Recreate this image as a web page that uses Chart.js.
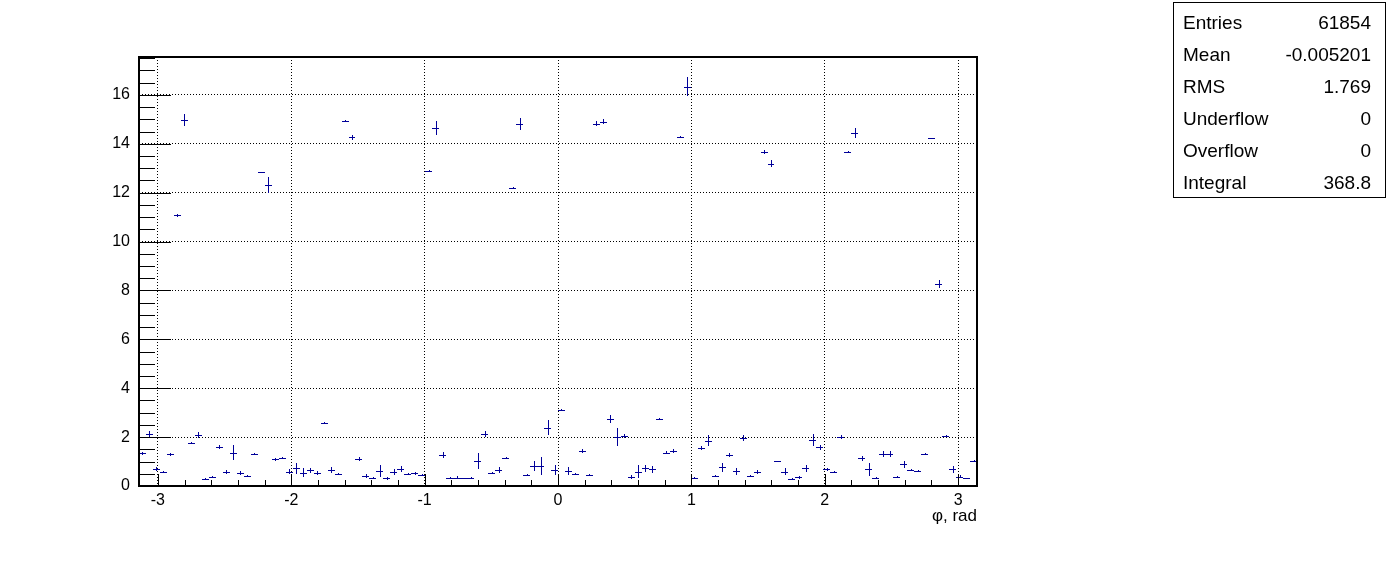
<!DOCTYPE html>
<html>
<head>
<meta charset="utf-8">
<title>phi histogram</title>
<script src="https://cdn.jsdelivr.net/npm/chart.js@4.4.1/dist/chart.umd.min.js"></script>
<style>
  html, body { margin: 0; padding: 0; background: #fff; }
  #wrap { position: relative; width: 1396px; height: 572px; }
  #stats {
    position: absolute; left: 1173px; top: 2px; width: 213px; height: 196px;
    box-sizing: border-box; border: 1px solid #000; background: #fff;
    font-family: "Liberation Sans", Arial, sans-serif; font-size: 19px; color: #000;
  }
  #stats .row {
    position: absolute; left: 9px; right: 14px; height: 32px; line-height: 32px;
    display: flex; justify-content: space-between; white-space: nowrap;
  }
</style>
</head>
<body>
<div id="wrap">
  <canvas id="histo" width="1396" height="572"></canvas>
  <div id="stats"></div>
</div>
<script>
// histogram binning: 120 bins over [-pi, pi]
const nBins = 120;
const xMin = -Math.PI;
const xMax = Math.PI;
const binCenters = Array.from({ length: nBins }, (_, i) => xMin + (i + 0.5) * (xMax - xMin) / nBins);

// bin contents
const counts = [
  1.33, 2.12, 0.69, 0.57, 1.29, 11.07, 14.98, 1.74, 2.10, 0.27,
  0.35, 1.58, 0.57, 1.37, 0.52, 0.42, 1.31, 12.83, 12.33, 1.09,
  1.13, 0.59, 0.72, 0.54, 0.64, 0.53, 2.57, 0.65, 0.48, 14.94,
  14.26, 1.09, 0.41, 0.31, 0.61, 0.31, 0.57, 0.69, 0.48, 0.52,
  0.45, 12.88, 14.65, 1.27, 0.31, 0.34, 0.31, 0.31, 1.02, 2.12,
  0.52, 0.65, 1.13, 12.20, 14.80, 0.45, 0.82, 0.82, 2.39, 0.65,
  3.10, 0.61, 0.48, 1.43, 0.45, 14.82, 14.91, 2.73, 2.01, 2.04,
  0.37, 0.59, 0.72, 0.68, 2.73, 1.37, 1.43, 14.29, 16.34, 0.31,
  1.56, 1.85, 0.39, 0.76, 1.27, 0.60, 1.97, 0.41, 0.57, 13.66,
  13.18, 1.02, 0.59, 0.29, 0.35, 0.72, 1.88, 1.58, 0.68, 0.59,
  1.99, 13.66, 14.44, 1.13, 0.69, 0.31, 1.31, 1.31, 0.35, 0.88,
  0.65, 0.61, 1.31, 14.22, 8.26, 2.05, 0.69, 0.38, 0.31, 1.02
];

// bin errors (half length of the vertical bar)
const errors = [
  0.08, 0.11, 0.07, 0.05, 0.05, 0.07, 0.24, 0.04, 0.12, 0.04,
  0.04, 0.08, 0.07, 0.30, 0.09, 0.04, 0.04, 0.03, 0.33, 0.05,
  0.04, 0.11, 0.22, 0.19, 0.11, 0.08, 0.04, 0.11, 0.04, 0.02,
  0.10, 0.08, 0.08, 0.04, 0.25, 0.05, 0.14, 0.12, 0.05, 0.05,
  0.04, 0.05, 0.28, 0.14, 0.04, 0.05, 0.03, 0.04, 0.33, 0.11,
  0.04, 0.11, 0.04, 0.02, 0.25, 0.05, 0.19, 0.38, 0.30, 0.19,
  0.04, 0.16, 0.04, 0.08, 0.05, 0.10, 0.12, 0.16, 0.37, 0.08,
  0.07, 0.25, 0.14, 0.14, 0.04, 0.08, 0.08, 0.02, 0.40, 0.04,
  0.07, 0.22, 0.04, 0.20, 0.07, 0.14, 0.11, 0.03, 0.08, 0.07,
  0.15, 0.01, 0.14, 0.03, 0.05, 0.14, 0.25, 0.11, 0.07, 0.04,
  0.08, 0.05, 0.20, 0.11, 0.27, 0.04, 0.11, 0.11, 0.04, 0.16,
  0.04, 0.04, 0.04, 0.02, 0.15, 0.03, 0.14, 0.05, 0.03, 0.03
];

const xTicks = [-3, -2, -1, 0, 1, 2, 3];
const yTicks = [0, 2, 4, 6, 8, 10, 12, 14, 16];
const yMax = 17.55;

const statsRows = [
  ['Entries', '61854'],
  ['Mean', '-0.005201'],
  ['RMS', '1.769'],
  ['Underflow', '0'],
  ['Overflow', '0'],
  ['Integral', '368.8']
];

const FONT = '"Liberation Sans", Arial, Helvetica, sans-serif';
const HIST_COLOR = '#000099';

// stats box
const statsBox = document.getElementById('stats');
statsRows.forEach((r, i) => {
  const row = document.createElement('div');
  row.className = 'row';
  row.style.top = (3.5 + 32 * i) + 'px';
  row.innerHTML = '<span>' + r[0] + '</span><span>' + r[1] + '</span>';
  statsBox.appendChild(row);
});

// error bars, frame and ROOT-like tick marks
const rootPlugin = {
  id: 'rootPlugin',
  afterDatasetsDraw(chart) {
    const { ctx, scales: { x, y } } = chart;
    const half = (xMax - xMin) / nBins / 2;
    ctx.save();
    ctx.strokeStyle = HIST_COLOR;
    ctx.lineWidth = 1;
    ctx.beginPath();
    binCenters.forEach((c, i) => {
      const x0 = Math.round(x.getPixelForValue(c - half));
      const x1 = Math.round(x.getPixelForValue(c + half));
      const xc = Math.round(x.getPixelForValue(c)) + 0.5;
      const yc = Math.round(y.getPixelForValue(counts[i])) + 0.5;
      const yLo = y.getPixelForValue(counts[i] - errors[i]);
      const yHi = y.getPixelForValue(counts[i] + errors[i]);
      ctx.moveTo(x0, yc);
      ctx.lineTo(x1, yc);
      ctx.moveTo(xc, Math.round(yHi));
      ctx.lineTo(xc, Math.round(yLo));
    });
    ctx.stroke();
    ctx.restore();
  },
  afterDraw(chart) {
    const { ctx, chartArea: a, scales: { x, y } } = chart;
    ctx.save();
    ctx.strokeStyle = '#000';
    ctx.lineWidth = 1;
    ctx.beginPath();
    // x ticks: major 12px, minor every 0.2
    for (let i = 0; i < xTicks.length; i++) {
      const px = Math.round(x.getPixelForValue(xTicks[i])) + 0.5;
      ctx.moveTo(px, a.bottom);
      ctx.lineTo(px, a.bottom - 12);
      if (i < xTicks.length - 1) {
        for (let k = 1; k < 5; k++) {
          const v = xTicks[i] + k * (xTicks[i + 1] - xTicks[i]) / 5;
          const pm = Math.round(x.getPixelForValue(v)) + 0.5;
          ctx.moveTo(pm, a.bottom);
          ctx.lineTo(pm, a.bottom - 6);
        }
      }
    }
    // y ticks: major 32px, minor every 0.5
    for (let v = 0; v <= yMax; v += 0.5) {
      const py = Math.round(y.getPixelForValue(v)) + 0.5;
      const major = yTicks.includes(v);
      ctx.moveTo(a.left, py);
      ctx.lineTo(a.left + (major ? 32 : 16), py);
    }
    ctx.stroke();
    // frame
    ctx.lineWidth = 2;
    ctx.strokeRect(a.left, a.top, a.right - a.left, a.bottom - a.top);
    ctx.restore();
  }
};

new Chart(document.getElementById('histo'), {
  type: 'scatter',
  data: {
    datasets: [{
      label: 'phi',
      data: binCenters.map((c, i) => ({ x: c, y: counts[i] })),
      pointRadius: 0,
      pointHoverRadius: 0,
      showLine: false,
      borderColor: HIST_COLOR
    }]
  },
  options: {
    responsive: false,
    animation: false,
    devicePixelRatio: 1,
    layout: { padding: { left: 0, top: 57, right: 419, bottom: 0 } },
    plugins: {
      legend: { display: false },
      tooltip: { enabled: false }
    },
    scales: {
      x: {
        type: 'linear',
        min: xMin,
        max: xMax,
        afterBuildTicks: s => { s.ticks = xTicks.map(v => ({ value: v })); },
        afterFit: s => { s.height = 86; },
        grid: { color: '#000', lineWidth: 1, drawTicks: false },
        border: { display: false, dash: [1, 2] },
        ticks: {
          padding: 5,
          color: '#000',
          font: { family: FONT, size: 16 },
          maxRotation: 0,
          autoSkip: false,
          callback: v => String(v)
        },
        title: {
          display: true,
          text: 'φ, rad',
          align: 'end',
          color: '#000',
          font: { family: FONT, size: 17 },
          padding: { top: 0, bottom: 45 }
        }
      },
      y: {
        min: 0,
        max: yMax,
        afterBuildTicks: s => { s.ticks = yTicks.map(v => ({ value: v })); },
        afterFit: s => { s.width = 139; },
        grid: { color: '#000', lineWidth: 1, drawTicks: false },
        border: { display: false, dash: [1, 2] },
        ticks: {
          padding: 9,
          color: '#000',
          font: { family: FONT, size: 16 },
          autoSkip: false,
          callback: v => String(v)
        }
      }
    }
  },
  plugins: [rootPlugin]
});
</script>
</body>
</html>
